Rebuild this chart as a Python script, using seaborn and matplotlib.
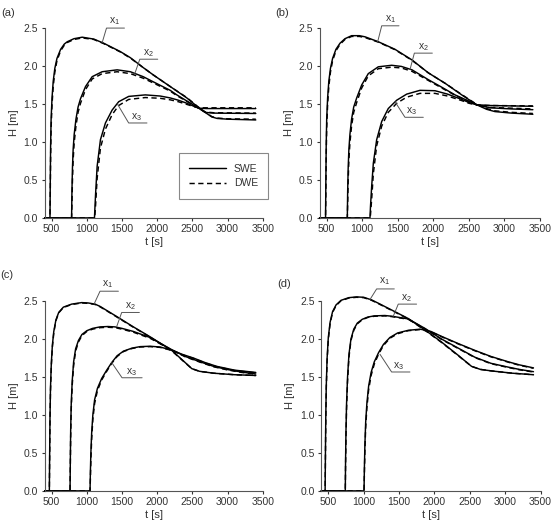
import matplotlib
matplotlib.use("Agg")
import matplotlib.pyplot as plt
import pandas as pd
import seaborn as sns

# ---- panel (a) ----
T_A1 = [400, 476, 480, 485, 492, 505, 522, 545, 575, 627, 680, 722, 816, 934, 1099, 1240, 1476, 1618, 1800, 1948, 2200, 2420, 2570, 2680, 2774, 2850, 3000, 3400]
SWE_A1 = [0, 0, 0.45, 0.95, 1.30, 1.58, 1.80, 1.97, 2.10, 2.22, 2.29, 2.32, 2.36, 2.38, 2.355, 2.30, 2.19, 2.11, 1.98, 1.88, 1.72, 1.58, 1.465, 1.39, 1.33, 1.31, 1.30, 1.29]
DWE_A1 = [0, 0, 0.30, 0.80, 1.18, 1.49, 1.73, 1.92, 2.07, 2.20, 2.275, 2.31, 2.35, 2.37, 2.35, 2.295, 2.185, 2.105, 1.98, 1.88, 1.72, 1.585, 1.47, 1.395, 1.335, 1.315, 1.305, 1.30]

T_A2 = [400, 783, 788, 795, 805, 820, 845, 875, 910, 981, 1076, 1217, 1430, 1618, 1800, 1948, 2184, 2278, 2420, 2570, 2679, 2800, 3400]
SWE_A2 = [0, 0, 0.35, 0.65, 0.90, 1.10, 1.30, 1.46, 1.57, 1.73, 1.86, 1.925, 1.95, 1.925, 1.86, 1.79, 1.68, 1.62, 1.54, 1.456, 1.39, 1.38, 1.375]
DWE_A2 = [0, 0, 0.18, 0.48, 0.76, 0.99, 1.21, 1.39, 1.51, 1.69, 1.83, 1.90, 1.925, 1.90, 1.84, 1.775, 1.67, 1.61, 1.535, 1.455, 1.395, 1.385, 1.38]

T_A3 = [400, 1108, 1114, 1123, 1146, 1193, 1264, 1359, 1452, 1594, 1830, 2042, 2184, 2300, 2420, 2520, 2590, 2700, 3400]
SWE_A3 = [0, 0, 0.12, 0.30, 0.68, 1.03, 1.25, 1.42, 1.53, 1.60, 1.62, 1.605, 1.58, 1.55, 1.51, 1.47, 1.445, 1.44, 1.44]
DWE_A3 = [0, 0, 0.03, 0.15, 0.52, 0.92, 1.17, 1.36, 1.48, 1.56, 1.585, 1.575, 1.555, 1.53, 1.495, 1.465, 1.45, 1.45, 1.45]

# ---- panel (b) ----
T_B1 = [400, 484, 488, 493, 500, 513, 530, 553, 583, 630, 687, 757, 851, 960, 1039, 1226, 1461, 1700, 1930, 2170, 2399, 2610, 2750, 2867, 3100, 3400]
SWE_B1 = [0, 0, 0.45, 0.95, 1.30, 1.58, 1.80, 1.97, 2.10, 2.22, 2.30, 2.36, 2.40, 2.40, 2.385, 2.32, 2.22, 2.08, 1.91, 1.77, 1.62, 1.49, 1.43, 1.40, 1.38, 1.365]
DWE_B1 = [0, 0, 0.30, 0.80, 1.18, 1.49, 1.73, 1.92, 2.07, 2.20, 2.285, 2.35, 2.39, 2.39, 2.375, 2.315, 2.215, 2.075, 1.91, 1.77, 1.625, 1.495, 1.44, 1.41, 1.39, 1.375]

T_B2 = [400, 790, 795, 802, 812, 827, 850, 880, 922, 992, 1085, 1226, 1414, 1550, 1700, 1930, 2120, 2305, 2470, 2610, 2800, 3100, 3400]
SWE_B2 = [0, 0, 0.35, 0.65, 0.90, 1.10, 1.30, 1.46, 1.58, 1.75, 1.90, 1.99, 2.01, 1.995, 1.95, 1.82, 1.72, 1.62, 1.55, 1.49, 1.45, 1.435, 1.425]
DWE_B2 = [0, 0, 0.18, 0.48, 0.76, 0.99, 1.21, 1.39, 1.52, 1.71, 1.87, 1.965, 1.985, 1.975, 1.93, 1.81, 1.71, 1.615, 1.545, 1.49, 1.455, 1.445, 1.435]

T_B3 = [400, 1109, 1116, 1133, 1156, 1203, 1274, 1366, 1485, 1625, 1812, 2023, 2200, 2399, 2500, 2610, 2800, 3400]
SWE_B3 = [0, 0, 0.15, 0.42, 0.72, 1.03, 1.27, 1.44, 1.55, 1.63, 1.68, 1.675, 1.63, 1.56, 1.52, 1.49, 1.48, 1.47]
DWE_B3 = [0, 0, 0.04, 0.25, 0.58, 0.95, 1.21, 1.39, 1.51, 1.59, 1.64, 1.64, 1.605, 1.545, 1.51, 1.485, 1.48, 1.475]

# ---- panel (c) ----
T_C1 = [400, 467, 471, 476, 483, 495, 510, 530, 560, 600, 666, 784, 927, 1020, 1116, 1187, 1400, 1661, 1898, 2206, 2350, 2491, 2600, 2800, 3100, 3400]
SWE_C1 = [0, 0, 0.45, 0.95, 1.35, 1.68, 1.92, 2.10, 2.25, 2.35, 2.42, 2.46, 2.48, 2.475, 2.46, 2.43, 2.31, 2.16, 2.03, 1.85, 1.73, 1.61, 1.575, 1.55, 1.53, 1.52]
DWE_C1 = [0, 0, 0.38, 0.88, 1.30, 1.64, 1.89, 2.08, 2.24, 2.345, 2.415, 2.455, 2.475, 2.47, 2.455, 2.425, 2.305, 2.155, 2.025, 1.845, 1.725, 1.61, 1.575, 1.55, 1.53, 1.52]

T_C2 = [400, 761, 765, 770, 778, 792, 812, 840, 880, 930, 1000, 1080, 1187, 1300, 1400, 1500, 1661, 1898, 2206, 2400, 2609, 2800, 2988, 3200, 3400]
SWE_C2 = [0, 0, 0.40, 0.80, 1.15, 1.45, 1.70, 1.87, 1.98, 2.06, 2.11, 2.14, 2.16, 2.165, 2.16, 2.14, 2.10, 2.02, 1.86, 1.77, 1.70, 1.64, 1.60, 1.565, 1.54]
DWE_C2 = [0, 0, 0.32, 0.72, 1.08, 1.39, 1.65, 1.84, 1.96, 2.045, 2.10, 2.13, 2.15, 2.155, 2.15, 2.13, 2.09, 2.01, 1.855, 1.765, 1.695, 1.635, 1.595, 1.56, 1.535]

T_C3 = [400, 1045, 1050, 1057, 1068, 1085, 1110, 1150, 1210, 1282, 1353, 1430, 1519, 1640, 1756, 1900, 2040, 2206, 2350, 2514, 2680, 2846, 3100, 3400]
SWE_C3 = [0, 0, 0.25, 0.50, 0.76, 1.00, 1.20, 1.35, 1.48, 1.59, 1.69, 1.78, 1.84, 1.88, 1.90, 1.905, 1.895, 1.855, 1.80, 1.75, 1.69, 1.64, 1.59, 1.56]
DWE_C3 = [0, 0, 0.15, 0.40, 0.68, 0.94, 1.15, 1.32, 1.46, 1.575, 1.68, 1.77, 1.835, 1.875, 1.895, 1.90, 1.89, 1.85, 1.795, 1.745, 1.685, 1.635, 1.585, 1.555]

# ---- panel (d) ----
T_D1 = [400, 455, 459, 464, 471, 483, 500, 525, 560, 610, 680, 790, 900, 1000, 1112, 1200, 1400, 1630, 1866, 2101, 2337, 2525, 2650, 2808, 3100, 3400]
SWE_D1 = [0, 0, 0.45, 0.95, 1.38, 1.75, 2.02, 2.22, 2.36, 2.45, 2.51, 2.545, 2.555, 2.55, 2.515, 2.475, 2.38, 2.27, 2.12, 1.96, 1.785, 1.64, 1.60, 1.58, 1.55, 1.53]
DWE_D1 = [0, 0, 0.38, 0.88, 1.33, 1.71, 1.99, 2.20, 2.35, 2.44, 2.505, 2.54, 2.55, 2.545, 2.51, 2.47, 2.375, 2.265, 2.115, 1.955, 1.78, 1.64, 1.60, 1.58, 1.55, 1.53]

T_D2 = [400, 740, 744, 750, 758, 772, 792, 820, 860, 910, 980, 1060, 1150, 1300, 1400, 1630, 1866, 2101, 2337, 2573, 2800, 3044, 3200, 3400]
SWE_D2 = [0, 0, 0.40, 0.80, 1.15, 1.50, 1.80, 2.00, 2.13, 2.21, 2.26, 2.29, 2.305, 2.31, 2.30, 2.265, 2.14, 2.00, 1.88, 1.76, 1.68, 1.63, 1.60, 1.57]
DWE_D2 = [0, 0, 0.32, 0.72, 1.08, 1.44, 1.76, 1.98, 2.115, 2.20, 2.255, 2.285, 2.30, 2.305, 2.295, 2.26, 2.135, 1.995, 1.875, 1.755, 1.675, 1.625, 1.595, 1.565]

T_D3 = [400, 1005, 1010, 1017, 1028, 1045, 1070, 1105, 1150, 1210, 1280, 1370, 1480, 1630, 1800, 1950, 2101, 2337, 2573, 2800, 3044, 3200, 3400]
SWE_D3 = [0, 0, 0.30, 0.60, 0.90, 1.15, 1.38, 1.56, 1.70, 1.82, 1.93, 2.02, 2.08, 2.115, 2.13, 2.10, 2.035, 1.94, 1.85, 1.77, 1.70, 1.66, 1.62]
DWE_D3 = [0, 0, 0.22, 0.52, 0.83, 1.09, 1.33, 1.52, 1.67, 1.80, 1.915, 2.01, 2.07, 2.11, 2.125, 2.095, 2.03, 1.935, 1.845, 1.765, 1.695, 1.655, 1.615]

X_TICKS = [500, 1000, 1500, 2000, 2500, 3000, 3500]
Y_TICKS = [0.0, 0.5, 1.0, 1.5, 2.0, 2.5]
STATIONS = ["x$_1$", "x$_2$", "x$_3$"]

# layout: axes rectangles (figure fractions), panel tags, leader lines
PANELS = {
    "a": dict(rect=[0.081, 0.581, 0.396, 0.365], tag=(0.002, 0.975),
              curves=[(T_A1, SWE_A1, DWE_A1), (T_A2, SWE_A2, DWE_A2), (T_A3, SWE_A3, DWE_A3)],
              notes=[((1218, 2.31), (1279, 2.50), (1534, 2.50), (1400, 2.59)),
                     ((1681, 1.90), (1752, 2.09), (2007, 2.09), (1870, 2.17)),
                     ((1434, 1.50), (1594, 1.25), (1854, 1.25), (1712, 1.33))]),
    "b": dict(rect=[0.580, 0.581, 0.400, 0.365], tag=(0.500, 0.975),
              curves=[(T_B1, SWE_B1, DWE_B1), (T_B2, SWE_B2, DWE_B2), (T_B3, SWE_B3, DWE_B3)],
              notes=[((1217, 2.32), (1274, 2.53), (1517, 2.53), (1391, 2.62)),
                     ((1672, 1.955), (1733, 2.17), (1986, 2.17), (1860, 2.25)),
                     ((1461, 1.53), (1601, 1.325), (1859, 1.325), (1695, 1.40))]),
    "c": dict(rect=[0.081, 0.056, 0.396, 0.365], tag=(0.000, 0.471),
              curves=[(T_C1, SWE_C1, DWE_C1), (T_C2, SWE_C2, DWE_C2), (T_C3, SWE_C3, DWE_C3)],
              notes=[((1102, 2.46), (1187, 2.63), (1448, 2.63), (1300, 2.72)),
                     ((1424, 2.165), (1495, 2.35), (1746, 2.35), (1614, 2.43)),
                     ((1353, 1.69), (1500, 1.49), (1785, 1.49), (1640, 1.57))]),
    "d": dict(rect=[0.583, 0.056, 0.398, 0.365], tag=(0.503, 0.454),
              curves=[(T_D1, SWE_D1, DWE_D1), (T_D2, SWE_D2, DWE_D2), (T_D3, SWE_D3, DWE_D3)],
              notes=[((1089, 2.52), (1183, 2.66), (1433, 2.66), (1291, 2.76)),
                     ((1418, 2.30), (1489, 2.46), (1748, 2.46), (1607, 2.54)),
                     ((1230, 1.80), (1395, 1.566), (1654, 1.566), (1499, 1.64))]),
}

sns.set_style("ticks")
plt.rcParams["font.family"] = ["Liberation Sans", "DejaVu Sans"]
plt.rcParams["mathtext.default"] = "regular"

INK = "#333333"
DASH = (0, (3.6, 2.4))

fig = plt.figure(figsize=(5.51, 5.2), dpi=100)

for key, p in PANELS.items():
    ax = fig.add_axes(p["rect"])
    for i, (t, swe, dwe) in enumerate(p["curves"]):
        assert len(t) == len(swe) == len(dwe)
        df = pd.DataFrame({"t": t, "SWE": swe, "DWE": dwe})
        sns.lineplot(data=df, x="t", y="SWE", ax=ax, color="black", lw=1.05,
                     estimator=None, sort=False, legend=False, clip_on=False,
                     label="SWE" if (key == "a" and i == 0) else None)
        sns.lineplot(data=df, x="t", y="DWE", ax=ax, color="black", lw=1.05,
                     linestyle=DASH, estimator=None, sort=False, legend=False,
                     clip_on=False,
                     label="DWE" if (key == "a" and i == 0) else None)

    # station labels with leader lines
    for name, (pt, elbow, end, txt) in zip(STATIONS, p["notes"]):
        ax.plot([pt[0], elbow[0], end[0]], [pt[1], elbow[1], end[1]],
                color="#555555", lw=0.7, clip_on=False)
        ax.text(txt[0], txt[1], name, ha="center", va="center", fontsize=7.5,
                color=INK)

    ax.set_xlim(400, 3500)
    ax.set_ylim(0, 2.5)
    ax.set_xticks(X_TICKS)
    ax.set_yticks(Y_TICKS)
    ax.set_yticklabels([f"{v:.1f}" for v in Y_TICKS])
    ax.set_xlabel("t [s]", fontsize=8, color=INK, labelpad=2)
    ax.set_ylabel("H [m]", fontsize=8, color=INK, labelpad=3.5)
    ax.tick_params(labelsize=7.5, colors=INK, length=2.5, width=0.8, pad=2.2)
    sns.despine(ax=ax)
    for s in ("left", "bottom"):
        ax.spines[s].set_color("#555555")
        ax.spines[s].set_linewidth(0.8)

    if key == "a":
        leg = ax.legend(loc="lower right", bbox_to_anchor=(1.025, 0.10),
                        borderaxespad=0, fontsize=7.5, frameon=True,
                        fancybox=False, framealpha=1, edgecolor="#888888",
                        handlelength=3.6, handletextpad=0.7, borderpad=1.0,
                        labelspacing=0.45)
        leg.get_frame().set_linewidth(0.8)
        for txt in leg.get_texts():
            txt.set_color(INK)

    fig.text(p["tag"][0], p["tag"][1], f"({key})", fontsize=8, color=INK,
             ha="left", va="center")

fig.savefig("out.png", dpi=100)
